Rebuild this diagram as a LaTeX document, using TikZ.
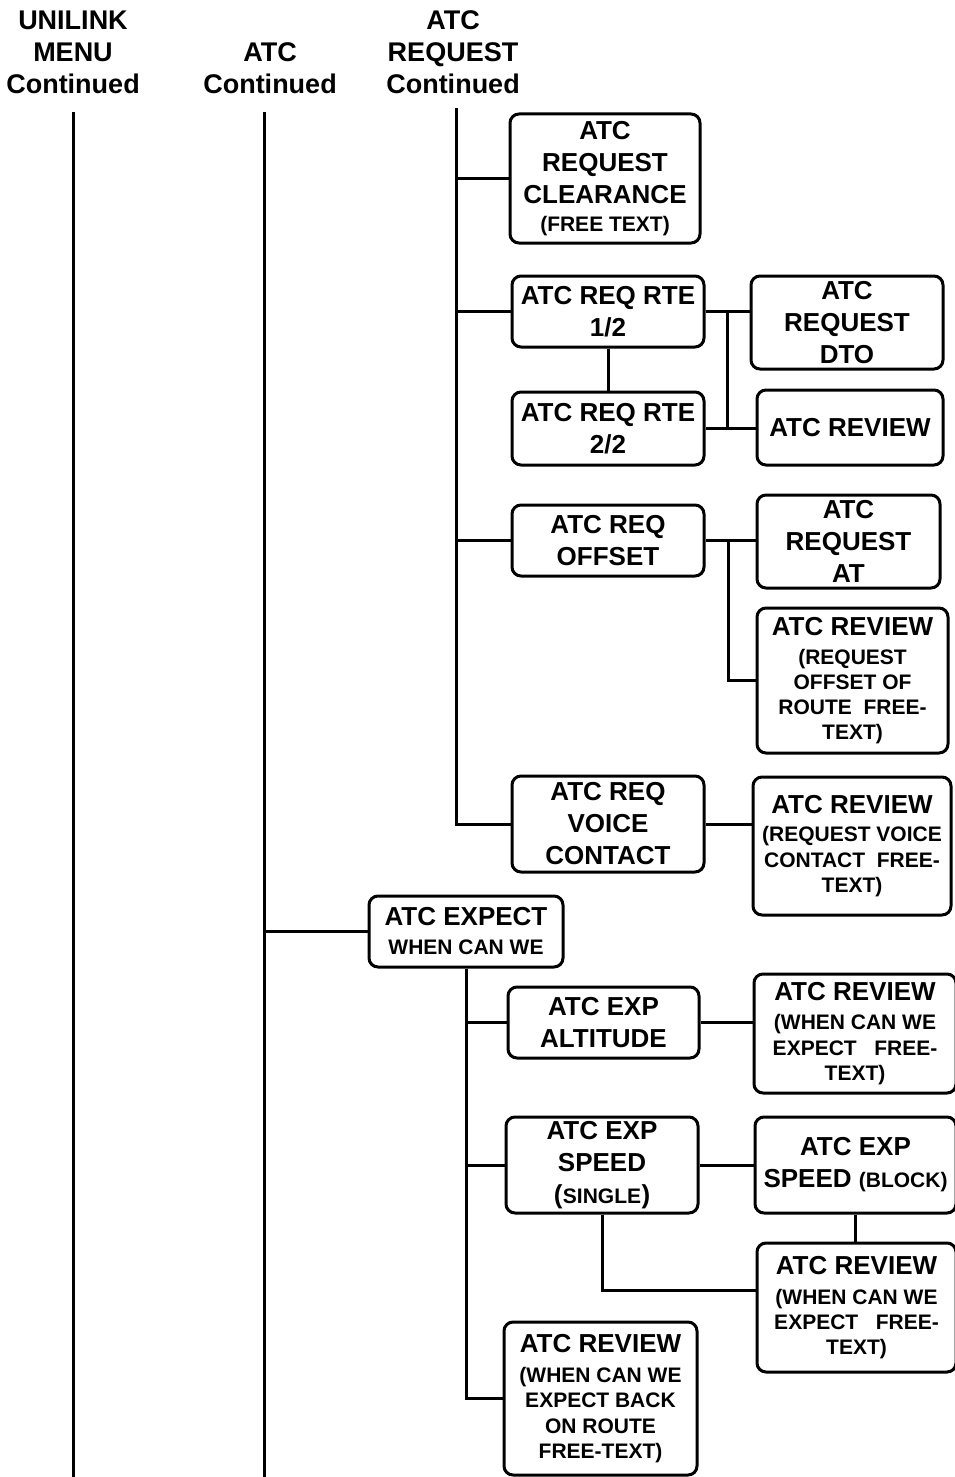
\documentclass[tikz,border=0pt]{standalone}
\usepackage{fontspec}
\setmainfont{Liberation Sans}
\newcommand\mainf{\fontsize{26}{32}\selectfont\bfseries}
\newcommand\subf{\fontsize{21}{25}\selectfont\bfseries}
\newcommand\hdrf{\fontsize{27}{32}\selectfont\bfseries}
\tikzset{
  box/.style={draw, line width=3pt, rounded corners=9pt, align=center, inner sep=0pt, font=\mainf},
  hdr/.style={align=center, inner sep=0pt, font=\hdrf},
  ln/.style={line width=3pt},
}
\begin{document}
\begin{tikzpicture}[x=1pt,y=-1pt]
\useasboundingbox (0,0) rectangle (954,1477);
% headers
\node[hdr] (h1) at (73,52) {UNILINK\\MENU\\Continued};
\node[hdr] (h2) at (270,68) {ATC\\Continued};
\node[hdr] (h3) at (453,52) {ATC\\REQUEST\\Continued};
% trunk coordinates
\coordinate (t1a) at (73,112);  \coordinate (t1b) at (73,1477);
\coordinate (t2a) at (264,112); \coordinate (t2b) at (264,1477);
\coordinate (t3a) at (456,108);
\coordinate (j1) at (727,0);
\coordinate (j2) at (728,0);
\coordinate (j3) at (0,1290);
% boxes
\node[box, minimum width=190pt, minimum height=129pt] (b1) at (605,178.5) {ATC\\REQUEST\\CLEARANCE\\[-4pt]{\subf (FREE TEXT)}};
\node[box, minimum width=192pt, minimum height=71pt] (rte1) at (608,311.5) {ATC REQ RTE\\1/2};
\node[box, minimum width=192pt, minimum height=73pt] (rte2) at (608,428.5) {ATC REQ RTE\\2/2};
\node[box, minimum width=192pt, minimum height=93pt] (dto) at (847,322.5) {ATC\\REQUEST\\DTO};
\node[box, minimum width=186pt, minimum height=75pt] (rev1) at (850,427.5) {ATC REVIEW};
\node[box, minimum width=192pt, minimum height=71pt] (offset) at (608,540.5) {ATC REQ\\OFFSET};
\node[box, minimum width=183pt, minimum height=93pt] (at) at (848.5,541.5) {ATC\\REQUEST\\AT};
\node[box, minimum width=191pt, minimum height=145pt] (rev2) at (852.5,680.5) {ATC REVIEW\\[-3pt]{\subf (REQUEST}\\[-7pt]{\subf OFFSET OF}\\[-7pt]{\subf ROUTE\ \ FREE-}\\[-7pt]{\subf TEXT)}};
\node[box, minimum width=192pt, minimum height=96pt] (voice) at (608,824) {ATC REQ\\VOICE\\CONTACT};
\node[box, minimum width=198pt, minimum height=138pt] (rev3) at (852,846) {ATC REVIEW\\[-4pt]{\subf (REQUEST VOICE}\\[-6pt]{\subf CONTACT\ \ FREE-}\\[-7pt]{\subf TEXT)}};
\node[box, minimum width=194pt, minimum height=71pt] (expect) at (466,931.5) {ATC EXPECT\\[-3pt]{\subf WHEN CAN WE}};
\node[box, minimum width=191pt, minimum height=71pt] (alt) at (603.5,1022.5) {ATC EXP\\ALTITUDE};
\node[box, minimum width=202pt, minimum height=119pt] (rev4) at (855,1033.5) {ATC REVIEW\\[-3pt]{\subf (WHEN CAN WE}\\[-6pt]{\subf EXPECT\ \ \ FREE-}\\[-7pt]{\subf TEXT)}};
\node[box, minimum width=192pt, minimum height=96pt] (single) at (602,1165) {ATC EXP\\SPEED\\(\kern0.5pt{\subf SINGLE}\kern0.5pt)};
\node[box, minimum width=201pt, minimum height=96pt] (block) at (855.5,1165) {ATC EXP\\SPEED {\subf (BLOCK)}};
\node[box, minimum width=199pt, minimum height=129pt] (rev5) at (856.5,1307.5) {ATC REVIEW\\[-2pt]{\subf (WHEN CAN WE}\\[-7pt]{\subf EXPECT\ \ \ FREE-}\\[-7pt]{\subf TEXT)}};
\node[box, minimum width=193pt, minimum height=153pt] (rev6) at (600.5,1398.5) {ATC REVIEW\\[-2pt]{\subf (WHEN CAN WE}\\[-7pt]{\subf EXPECT BACK}\\[-6pt]{\subf ON ROUTE}\\[-7pt]{\subf FREE-TEXT)}};
% trunks
\draw[ln] (t1a) -- (t1b);
\draw[ln] (t2a) -- (t2b);
\draw[ln] (t3a) -- (voice.west -| t3a) -- (voice.west);
% from ATC REQUEST trunk
\draw[ln] (b1.west -| t3a) -- (b1.west);
\draw[ln] (rte1.west -| t3a) -- (rte1.west);
\draw[ln] (offset.west -| t3a) -- (offset.west);
% route pages
\draw[ln] (rte1.south) -- (rte2.north);
\draw[ln] (rte1.east) -- (rte1.east -| dto.west);
\draw[ln] (rte1.east -| j1) -- (rte2.east -| j1);
\draw[ln] (rte2.east) -- (rte2.east -| rev1.west);
% offset
\draw[ln] (offset.east) -- (offset.east -| at.west);
\draw[ln] (offset.east -| j2) -- (rev2.west -| j2) -- (rev2.west);
% voice
\draw[ln] (voice.east) -- (voice.east -| rev3.west);
% expect
\draw[ln] (expect.west -| t2a) -- (expect.west);
\draw[ln] (expect.south) -- (expect.south |- rev6.west) -- (rev6.west);
\draw[ln] (expect.south |- alt.west) -- (alt.west);
\draw[ln] (expect.south |- single.west) -- (single.west);
\draw[ln] (alt.east) -- (alt.east -| rev4.west);
\draw[ln] (single.east) -- (block.west);
\draw[ln] (block.south) -- (block.south |- rev5.north);
\draw[ln] (single.south) -- (single.south |- j3) -- (j3 -| rev5.west);
\end{tikzpicture}
\end{document}
